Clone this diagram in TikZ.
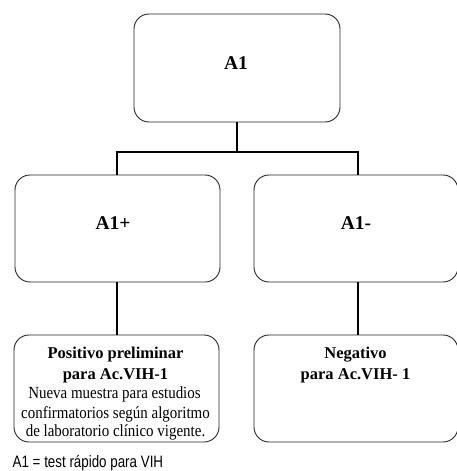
\documentclass[tikz,border=0pt]{standalone}
\usepackage{fontspec}
\setmainfont{Liberation Serif}
\newfontfamily\rnarrow[FakeStretch=0.88]{Liberation Serif}
\newfontfamily\capfont[FakeStretch=0.81]{Liberation Sans}
\begin{document}
\begin{tikzpicture}[x=1pt,y=-1pt,
  box/.style={draw=black!85,line width=0.9pt,rounded corners=15pt},
  conn/.style={draw=black,line width=2.6pt},
  big/.style={font=\fontsize{19.5}{22}\selectfont\bfseries,inner sep=0pt,anchor=base},
  bl/.style={font=\fontsize{16.5}{20}\selectfont\bfseries,inner sep=0pt,anchor=base},
  rl/.style={font=\rnarrow\fontsize{17}{20}\selectfont,inner sep=0pt,anchor=base}]
\useasboundingbox (0,0) rectangle (456,471);
\draw[box] (134,14) rectangle (340,122);
\node[big] (a1) at (236,69.5) {A1};
\draw[box] (15,175) rectangle (220,282);
\node[big] (ap) at (113,229) {A1+};
\draw[box] (254,175) rectangle (458,282);
\node[big] (am) at (356,229) {A1-};
\draw[box] (14,335) rectangle (219,442);
\draw[box] (254,335) rectangle (458,442);
\coordinate (t1) at (237,122);
\coordinate (j) at (237,152);
\coordinate (jl) at (117,152);
\coordinate (jr) at (358,152);
\coordinate (ml) at (117,175);
\coordinate (mr) at (358,175);
\draw[conn] (t1) -- (j);
\draw[conn] (ml) -- (jl) -- (jr) -- (mr);
\coordinate (bl1) at (117,282);
\coordinate (bl2) at (117,335);
\coordinate (br1) at (358,282);
\coordinate (br2) at (358,335);
\draw[conn] (bl1) -- (bl2);
\draw[conn] (br1) -- (br2);
\node[bl] (p1) at (115.5,358.3) {Positivo preliminar};
\node[bl] (p2) at (115.5,379.3) {para Ac.VIH-1};
\node[rl] (p3) at (114.5,398.3) {Nueva muestra para estudios};
\node[rl] (p4) at (115.5,418.3) {confirmatorios según algoritmo};
\node[rl] (p5) at (115.5,436.5) {de laboratorio clínico vigente.};
\node[bl] (n1) at (355.5,358.3) {Negativo};
\node[bl] (n2) at (355.5,379.3) {para Ac.VIH- 1};
\node[anchor=base west,inner sep=0pt,font=\capfont\fontsize{16.5}{18}\selectfont] (cap) at (12.5,467) {A1 = test rápido para VIH};
\end{tikzpicture}
\end{document}
